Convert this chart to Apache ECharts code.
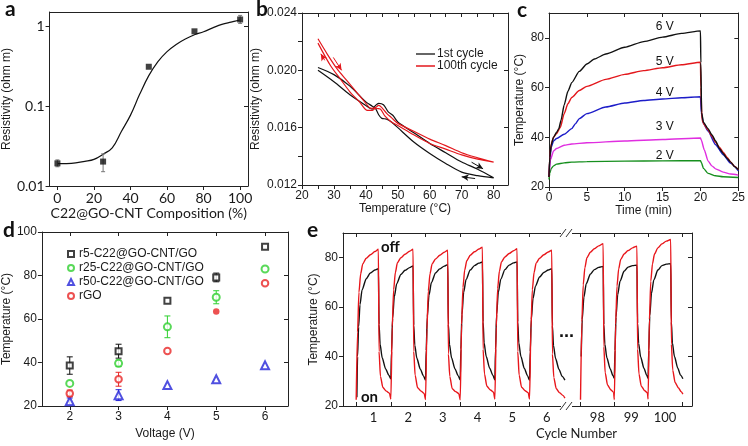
<!DOCTYPE html>
<html><head><meta charset="utf-8">
<script src="https://cdn.jsdelivr.net/npm/echarts@6/dist/echarts.min.js"></script>
<style>html,body{margin:0;padding:0;background:#fff}#c{width:748px;height:446px}</style>
</head><body><div id="c"></div>
<script>
// ================= DATA =================
// panel a
const aX = [0, 25, 50, 75, 100];
const aY = [0.0192, 0.0202, 0.31, 0.86, 1.21];
const aErrLo = [0.0174, 0.0151, null, null, 1.08];
const aErrHi = [0.0212, 0.0252, null, null, 1.36];
const aFitX = [0,5,10,15,20,25,30,35,40,45,50,55,60,65,70,75,80,85,90,95,100];
const aFitY = [0.0190,0.0191,0.0195,0.0203,0.0215,0.025,0.030,0.048,0.077,0.14,0.24,0.36,0.48,0.59,0.69,0.78,0.85,0.95,1.05,1.12,1.19];
// panel b
const b1T = [25,30,35,40,42,43,44,45.5,47,48.5,50,55,60,65,70,75,80,75,70,65,60,55,50,48,46.5,45,44,43,42,40,35,30,25];
const b1R = [.0200,.0192,.0183,.01755,.0173,.01755,.0177,.0176,.0171,.01685,.0164,.01565,.0149,.01425,.0136,.0131,.0125,.01265,.0129,.0135,.0142,.0150,.0160,.0164,.0166,.01665,.0169,.01735,.0175,.0178,.0189,.0197,.0202];
const b100T = [25,28,31,34,37,40,41.5,43,44,45,46.5,48,50,55,60,65,70,75,80,75,70,65,60,55,50,48,46,44.5,43,42,40.5,38,35,32,29,25];
const b100R = [.0222,.0211,.0201,.0193,.0185,.0177,.01735,.0174,.01755,.0174,.0170,.0167,.0163,.01575,.0152,.01475,.01425,.0139,.0136,.0138,.0141,.0145,.0149,.0155,.01615,.0164,.0168,.0173,.01735,.0172,.0172,.0178,.0185,.0194,.0203,.0219];
// panel c (time min, temperature C)
const c6V = [[0,24],[0.1,32],[0.3,37],[0.6,40],[1,42],[1.3,43.5],[1.6,47],[2,53],[2.5,58.5],[3,62],[4,66.5],[5,69.5],[6,71.5],[7.5,73.5],[10,76.2],[12.5,78.5],[15,80.3],[17.5,81.8],[20,82.8],[20.05,70],[20.15,50],[20.4,46],[21,43.5],[21.5,41],[22,38.5],[22.5,35.5],[23,33.5],[23.5,31.5],[24,30],[24.5,28.2],[25,27]];
const c5V = [[0,24],[0.1,32],[0.3,37.5],[0.6,40],[1,41.5],[1.5,44],[2,49.5],[2.5,53.5],[3,56],[4,58.8],[5,60.5],[7.5,63.3],[10,65.3],[12.5,66.8],[15,68],[17.5,69.2],[20,70.2],[20.05,60],[20.2,47],[20.5,45],[21,43],[21.5,40.5],[22,38],[22.5,36],[23,34],[23.5,32],[24,30],[24.5,28.3],[25,27]];
const c4V = [[0,24],[0.1,31],[0.3,36],[0.6,38.5],[1,39.5],[2,41.2],[3,43.5],[3.5,45.5],[4,47.5],[5,49.5],[7.5,52.2],[10,53.8],[12.5,54.8],[15,55.4],[17.5,55.9],[20,56.3],[20.1,50],[20.4,45.5],[21,42.5],[22,37],[23,33],[24,29.5],[25,26.5]];
const c3V = [[0,24],[0.2,31],[0.6,34.5],[1,35.5],[2,36.8],[3,37.3],[5,37.8],[10,38.5],[15,39.1],[20,39.7],[20.1,39],[20.5,35],[21,30.5],[21.5,28.5],[22,27.3],[23,26],[24,25.2],[25,24.8]];
const c2V = [[0,23],[0.1,25.5],[0.3,27.5],[0.6,28.5],[1,29.2],[2,29.7],[3,30],[5,30.2],[10,30.4],[15,30.5],[20,30.6],[20.1,30],[20.4,27.5],[21,25.5],[22,24.5],[23,24.1],[25,23.8]];
const cLabels = ['6 V','5 V','4 V','3 V','2 V'];
// panel d
const dV = [2, 3, 4, 5, 6];
const dR5 = [38.6, 45.2, 68.4, 79.1, 93.2];   const dR5Err = [4, 3.2, 0, 2, 0];
const dR25 = [30.4, 39.6, 56.4, 70, 83];      const dR25Err = [0, 1.5, 5, 3, 0];
const dR50 = [22.2, 25, 29.6, 32.3, 38.7];    const dR50Err = [1.5, 2.5, 0, 0, 0];
const dRGO = [25.8, 32.3, 45.3, 63.4, 76.4];  const dRGOErr = [1.5, 3.2, 0, 0, 0];
const dNames = ['r5-C22@GO-CNT/GO','r25-C22@GO-CNT/GO','r50-C22@GO-CNT/GO','rGO'];
// panel e (cycle position, temperature C)
const eRedL = [
[0.5,22.5],[0.54,50],[0.58,66],[0.63,73.5],[0.69,77.5],[0.79,79.8],[0.91,81.2],[1.04,82.5],[1.14,83.4],[1.16,42],[1.2,32],[1.27,27.5],[1.37,26],[1.46,25.2],[1.5,22.8],
[1.54,52],[1.58,67],[1.63,74],[1.69,78],[1.79,80],[1.91,81.4],[2.04,82.6],[2.14,83.4],[2.16,42],[2.2,32.5],[2.27,27.4],[2.37,26],[2.46,25.1],[2.5,22.6],
[2.54,51],[2.58,66.5],[2.63,73.5],[2.69,77.5],[2.79,79.5],[2.91,81],[3.04,82.2],[3.14,83],[3.16,41],[3.2,32],[3.27,27],[3.37,25.8],[3.46,25],[3.5,22.5],
[3.54,53],[3.58,68],[3.63,75],[3.69,78.8],[3.79,81],[3.91,82.4],[4.04,83.5],[4.14,84.3],[4.16,43],[4.2,33],[4.27,28],[4.37,26.5],[4.46,25.6],[4.5,22.8],
[4.54,52],[4.58,67.5],[4.63,74.5],[4.69,78.3],[4.79,80.3],[4.91,81.7],[5.04,82.8],[5.14,83.6],[5.16,42],[5.2,32.5],[5.27,27.6],[5.37,26.2],[5.46,25.4],[5.5,22.8],
[5.54,51.5],[5.58,67],[5.63,74],[5.69,77.8],[5.79,79.8],[5.91,81.2],[6.04,82.3],[6.14,83],[6.16,41],[6.2,31.5],[6.27,27],[6.37,25.3],[6.46,24.3],[6.52,23.2]];
const eBlkL = [
[0.52,23.5],[0.54,40],[0.57,52],[0.61,61],[0.67,67],[0.79,71.5],[0.91,73.8],[1.04,75],[1.14,75.6],[1.16,53],[1.19,45],[1.25,39.5],[1.35,35],[1.44,32.5],[1.5,31],
[1.52,42],[1.55,55.4],[1.6,64.2],[1.67,69.5],[1.79,73.2],[1.91,74.9],[2.04,76],[2.14,76.7],[2.16,52.7],[2.19,44.6],[2.25,39.3],[2.35,34.9],[2.44,32.2],[2.5,30.5],
[2.52,42.5],[2.55,56],[2.6,64.8],[2.67,70],[2.79,73.8],[2.91,75.5],[3.04,76.6],[3.14,77.2],[3.16,53],[3.19,45],[3.25,39.5],[3.35,35],[3.44,32.3],[3.5,30.6],
[3.52,43],[3.55,57],[3.6,66],[3.67,71.2],[3.79,75],[3.91,76.8],[4.04,77.8],[4.14,78.3],[4.16,54],[4.19,45.5],[4.25,40],[4.35,35.3],[4.44,32.5],[4.5,30.6],
[4.52,43],[4.55,57],[4.6,66],[4.67,71.3],[4.79,75.2],[4.91,77],[5.04,77.9],[5.14,78.3],[5.16,54],[5.19,45.5],[5.25,40],[5.35,35.2],[5.44,32.3],[5.5,30.4],
[5.52,42],[5.55,55],[5.6,63.5],[5.67,68.5],[5.79,72.2],[5.91,74],[6.04,75],[6.14,75.6],[6.16,52.5],[6.19,44.5],[6.25,39.2],[6.35,34.8],[6.44,32],[6.52,30.5]];
const eRedR = [
[97.5,22.5],[97.54,54],[97.58,69],[97.63,76],[97.69,80],[97.79,82.2],[97.91,83.6],[98.04,84.8],[98.17,85.7],[98.19,44],[98.23,33.5],[98.3,28.5],[98.4,26.5],[98.48,25.5],[98.5,22.6],
[98.54,53],[98.58,68.5],[98.63,75.5],[98.69,79.3],[98.79,81.5],[98.91,82.9],[99.04,84],[99.17,84.7],[99.19,43],[99.23,33],[99.3,28],[99.4,26.2],[99.48,25.3],[99.5,22.8],
[99.54,55],[99.58,70.5],[99.63,77.5],[99.69,81.5],[99.79,84],[99.91,85.6],[100.04,86.7],[100.17,87.4],[100.19,45],[100.23,34.5],[100.3,29.5],[100.4,27.3],[100.48,25.8],[100.53,24.8]];
const eBlkR = [
[97.52,40],[97.55,55],[97.6,64],[97.67,69.5],[97.79,73.3],[97.91,75.2],[98.04,76.1],[98.17,76.5],[98.19,53],[98.22,45],[98.28,39.5],[98.38,35],[98.46,32.3],[98.5,31.2],
[98.52,42.5],[98.55,56],[98.6,65],[98.67,70.5],[98.79,74.5],[98.91,76.2],[99.04,76.8],[99.17,77],[99.19,53.5],[99.22,45.3],[99.28,39.8],[99.38,35.2],[99.46,32.4],[99.5,31.2],
[99.52,42.5],[99.55,56.5],[99.6,65.5],[99.67,71],[99.79,75],[99.91,76.8],[100.04,77.4],[100.17,77.6],[100.19,54],[100.22,45.5],[100.28,40],[100.38,35.3],[100.46,32.5],[100.53,31]];
const eTicksL = [1,2,3,4,5,6];
const eTicksR = [98,99,100];

// ================= BUILD =================
const FA = 'Lato, "Liberation Sans", sans-serif';
const FB = '"Liberation Sans", Arial, sans-serif';
const AX = '#222';
function mg(a, b) {
  const o = Object.assign({}, a);
  for (const k in b) {
    const v = b[k];
    if (v && typeof v === 'object' && !Array.isArray(v) && o[k] && typeof o[k] === 'object' && !Array.isArray(o[k])) o[k] = mg(o[k], v);
    else o[k] = v;
  }
  return o;
}
const grids = [], xAxes = [], yAxes = [], series = [];
function panel(grid, x, y, f) {
  f = f || {};
  const gi = grids.length; grids.push(grid);
  const xi = xAxes.length, yi = yAxes.length;
  const base = {gridIndex: gi, type: 'value', splitLine: {show: false},
    axisLine: {show: true, onZero: false, lineStyle: {color: AX, width: 1}},
    axisTick: {show: true, inside: false, length: 4, lineStyle: {color: AX, width: 1}},
    axisLabel: {margin: 5, color: '#1a1a1a', fontSize: 12, fontFamily: FB},
    nameLocation: 'middle', nameTextStyle: {color: '#1a1a1a', fontSize: 12, fontFamily: FB}};
  const xb = mg(mg(base, {position: 'bottom'}), x);
  const xt = mg(xb, {position: 'top', name: '', axisLabel: {show: false}, axisTick: {inside: true}});
  if (f.topTicks) xt.axisTick = mg(xt.axisTick, {customValues: f.topTicks});
  const yl = mg(mg(base, {position: 'left', nameRotate: 90}), y);
  const yr = mg(yl, {position: 'right', name: '', axisLabel: {show: false}, axisTick: {inside: true}});
  if (f.rightTicks) yr.axisTick = mg(yr.axisTick, {customValues: f.rightTicks});
  if (f.hideLeft) yl.show = false;
  if (f.hideRight) yr.show = false;
  xAxes.push(xb, xt); yAxes.push(yl, yr);
  return {xi, yi};
}
const pair = (xs, ys) => xs.map((v, i) => [v, ys[i]]);
function errSeries(ax, color, data, cap) {
  return {type: 'custom', xAxisIndex: ax.xi, yAxisIndex: ax.yi, silent: true, z: 3,
    data: data,
    renderItem: function (p, api) {
      const x = api.value(0), lo = api.value(1), hi = api.value(2);
      const a = api.coord([x, hi]), b = api.coord([x, lo]);
      const st = {stroke: color, lineWidth: 1};
      return {type: 'group', children: [
        {type: 'line', shape: {x1: a[0], y1: a[1], x2: b[0], y2: b[1]}, style: st},
        {type: 'line', shape: {x1: a[0] - cap, y1: a[1], x2: a[0] + cap, y2: a[1]}, style: st},
        {type: 'line', shape: {x1: b[0] - cap, y1: b[1], x2: b[0] + cap, y2: b[1]}, style: st}]};
    }};
}

// ---- panel a ----
const pa = panel({left: 45, top: 12, width: 203, height: 174},
  {min: -4.3, max: 104.3, axisLabel: {customValues: [0,20,40,60,80,100], fontFamily: FA, fontSize: 14},
   axisTick: {customValues: [0,20,40,60,80,100]}, name: 'C22@GO-CNT Composition (%)', nameGap: 20,
   nameTextStyle: {fontFamily: FA, fontSize: 14}},
  {type: 'log', min: 0.01, max: 1.5, axisLabel: {customValues: [0.01,0.1,1], fontFamily: FA, fontSize: 14},
   axisTick: {customValues: [0.01,0.1,1]}, name: 'Resistivity (ohm m)', nameGap: 31,
   nameTextStyle: {fontFamily: FB, fontSize: 12}},
  {rightTicks: [0.1, 1], topTicks: []});
series.push({type: 'line', name: 'aFit', xAxisIndex: pa.xi, yAxisIndex: pa.yi, data: pair(aFitX, aFitY),
  smooth: 0.4, symbol: 'none', lineStyle: {color: '#111', width: 1.2}, z: 2});
series.push({type: 'scatter', name: 'aPts', xAxisIndex: pa.xi, yAxisIndex: pa.yi, data: pair(aX, aY),
  symbol: 'rect', symbolSize: 6, itemStyle: {color: '#111'}, z: 4});
series.push(errSeries(pa, '#777', aX.map((x, i) => [x, aErrLo[i], aErrHi[i]]).filter(d => d[1] != null), 2));

// ---- panel b ----
const pb = panel({left: 302, top: 13, width: 206, height: 172},
  {min: 20, max: 84.5, axisLabel: {customValues: [20,30,40,50,60,70,80]},
   axisTick: {customValues: [20,25,30,35,40,45,50,55,60,65,70,75,80]}, name: 'Temperature (°C)', nameGap: 18},
  {min: 0.012, max: 0.024, axisLabel: {customValues: [0.012,0.016,0.020,0.024], formatter: v => v.toFixed(3)},
   axisTick: {customValues: [0.012,0.014,0.016,0.018,0.020,0.022,0.024]}, name: 'Resistivity (ohm m)', nameGap: 40},
  {rightTicks: [0.016, 0.020], topTicks: [20,25,30,35,40,45,50,55,60,65,70,75,80]});
const arrowML = (color, segs) => ({silent: true, symbol: ['none', 'arrow'], symbolSize: [5, 7], label: {show: false},
  lineStyle: {color: color, width: 1, type: 'solid'}, emphasis: {disabled: true},
  data: segs.map(s => [{coord: s[0]}, {coord: s[1]}])});
series.push({type: 'line', name: '1st cycle', xAxisIndex: pb.xi, yAxisIndex: pb.yi, data: pair(b1T, b1R),
  smooth: 0.3, symbol: 'none', lineStyle: {color: '#111', width: 1.2}, itemStyle: {color: '#333'},
  markLine: arrowML('#111', [[[73.1, 0.01359], [76.7, 0.01313]], [[74.2, 0.01245], [70, 0.01257]]])});
series.push({type: 'line', name: '100th cycle', xAxisIndex: pb.xi, yAxisIndex: pb.yi, data: pair(b100T, b100R),
  smooth: 0.3, symbol: 'none', lineStyle: {color: '#e3171c', width: 1.2}, itemStyle: {color: '#e3171c'},
  markLine: arrowML('#e3171c', [[[27.1, 0.0207], [25.9, 0.02115]], [[29.8, 0.0209], [32.4, 0.0200]]])});

// ---- panel c ----
const pc = panel({left: 549, top: 13, width: 196, height: 174},
  {min: 0, max: 25, axisLabel: {customValues: [0,5,10,15,20,25]}, axisTick: {customValues: [0,5,10,15,20,25]},
   name: 'Time (min)', nameGap: 18},
  {min: 20, max: 90, axisLabel: {customValues: [20,40,60,80]}, axisTick: {customValues: [20,40,60,80]},
   name: 'Temperature (°C)', nameGap: 23},
  {rightTicks: [40,60,80], topTicks: [5,10,15,20]});
const cSeries = [[c6V, '#111'], [c5V, '#e3171c'], [c4V, '#1c1cc8'], [c3V, '#e02ee0'], [c2V, '#168f1e']];
cSeries.forEach((s, i) => {
  const ser = {type: 'line', name: 'c' + cLabels[i], xAxisIndex: pc.xi, yAxisIndex: pc.yi, data: s[0],
    smooth: 0.2, smoothMonotone: 'x', symbol: 'none', lineStyle: {color: s[1], width: 1.4}, z: 5 - i};
  if (i === 0) ser.markPoint = {silent: true, symbol: 'circle', symbolSize: 1, itemStyle: {color: 'rgba(0,0,0,0)'},
    label: {show: true, position: 'inside', formatter: '{b}', color: '#111', fontSize: 12, fontFamily: FB},
    data: [{name: cLabels[0], coord: [15.3, 84.6]}, {name: cLabels[1], coord: [15.3, 70.6]},
           {name: cLabels[2], coord: [15.3, 57.8]}, {name: cLabels[3], coord: [15.3, 44.2]},
           {name: cLabels[4], coord: [15.3, 32.6]}]};
  series.push(ser);
});

// ---- panel d ----
const pd = panel({left: 40, top: 232, width: 248, height: 174},
  {min: 1.43, max: 6.47, axisLabel: {customValues: dV}, axisTick: {customValues: dV}, name: 'Voltage (V)', nameGap: 22},
  {min: 20, max: 100, axisLabel: {customValues: [20,40,60,80,100]}, axisTick: {customValues: [20,40,60,80,100]},
   name: 'Temperature (°C)', nameGap: 27},
  {rightTicks: [40,60,80], topTicks: dV});
const dSets = [[dR5, dR5Err, 'emptyRect', '#111', 6], [dR25, dR25Err, 'emptyCircle', '#2fd02f', 7],
               [dR50, dR50Err, 'emptyTriangle', '#2424d8', 8], [dRGO, dRGOErr, 'emptyCircle', '#e82525', 6.5]];
dSets.forEach((s, k) => {
  const data = dV.map((v, i) => [v, s[0][i]]);
  if (k === 3) data[3] = {value: data[3], symbol: 'circle', itemStyle: {color: s[3]}};
  series.push({type: 'scatter', name: dNames[k], xAxisIndex: pd.xi, yAxisIndex: pd.yi, data: data,
    symbol: s[2], symbolSize: s[4], itemStyle: {color: s[3], borderWidth: 1.3}, z: 5});
  series.push(errSeries(pd, s[3], dV.map((v, i) => [v, s[0][i] - s[1][i], s[0][i] + s[1][i]]).filter((d, i) => s[1][i] > 0), 3));
});

// ---- panel e ----
const RED = '#e8161b';
const pel = panel({left: 343, top: 233, width: 224, height: 173},
  {min: 0.12, max: 6.58, axisLabel: {customValues: eTicksL, fontFamily: FA, fontSize: 13},
   axisTick: {customValues: [0.5,1.5,2.5,3.5,4.5,5.5], inside: true}},
  {min: 20, max: 90, axisLabel: {customValues: [20,40,60,80]}, axisTick: {customValues: [20,40,60,80]},
   name: 'Temperature (°C)', nameGap: 23},
  {hideRight: true, topTicks: [0.5,1.5,2.5,3.5,4.5,5.5]});
const per = panel({left: 567, top: 233, width: 125, height: 173},
  {min: 97.1, max: 100.8, axisLabel: {customValues: eTicksR, fontFamily: FA, fontSize: 13},
   axisTick: {customValues: [97.5,98.5,99.5,100.5], inside: true}},
  {min: 20, max: 90},
  {hideLeft: true, rightTicks: [40,60,80], topTicks: [97.5,98.5,99.5,100.5]});
[[pel, eBlkL, eRedL], [per, eBlkR, eRedR]].forEach(g => {
  series.push({type: 'line', name: 'eBlk' + g[0].xi, xAxisIndex: g[0].xi, yAxisIndex: g[0].yi, data: g[1],
    smooth: 0.25, smoothMonotone: 'x', symbol: 'none', lineStyle: {color: '#111', width: 1.4}, z: 2});
  series.push({type: 'line', name: 'eRed' + g[0].xi, xAxisIndex: g[0].xi, yAxisIndex: g[0].yi, data: g[2],
    smooth: 0.25, smoothMonotone: 'x', symbol: 'none', lineStyle: {color: RED, width: 1.4}, z: 3});
});

const letter = (t, x, y) => ({type: 'text', left: x, top: y, style: {text: t, font: 'bold 21px Lato, sans-serif', fill: '#111'}});
const brk = (y) => [
  {type: 'rect', shape: {x: 561, y: y - 4, width: 11, height: 8}, style: {fill: '#fff'}, z: 10},
  {type: 'line', shape: {x1: 560, y1: y + 4, x2: 566, y2: y - 4}, style: {stroke: '#333', lineWidth: 1}, z: 11},
  {type: 'line', shape: {x1: 566, y1: y + 4, x2: 572, y2: y - 4}, style: {stroke: '#333', lineWidth: 1}, z: 11}];

const option = {
  animation: false,
  backgroundColor: '#fff',
  grid: grids, xAxis: xAxes, yAxis: yAxes, series: series,
  legend: [
    {left: 411, top: 43, orient: 'vertical', itemGap: 0, itemWidth: 19, itemHeight: 1.5, icon: 'rect', selectedMode: false,
     data: ['1st cycle', '100th cycle'], textStyle: {fontFamily: FB, fontSize: 12, lineHeight: 12, color: '#1a1a1a', padding: [0,0,0,-3]}},
    {left: 62, top: 242, orient: 'vertical', itemGap: 0, itemWidth: 6, itemHeight: 6, selectedMode: false,
     data: dNames, textStyle: {fontFamily: FB, fontSize: 12, lineHeight: 14, color: '#1a1a1a'}}
  ],
  graphic: [
    letter('a', 5, -1), letter('b', 256, -1), letter('c', 517, 0), letter('d', 3, 220), letter('e', 307, 220),
    {type: 'text', left: 381, top: 240, style: {text: 'off', font: 'bold 15px Lato, sans-serif', fill: '#111'}, z: 20},
    {type: 'text', left: 361, top: 390, style: {text: 'on', font: 'bold 15px Lato, sans-serif', fill: '#111'}, z: 20},
    {type: 'text', left: 559, top: 323, style: {text: '...', font: 'bold 18px "Liberation Sans", sans-serif', fill: '#111'}, z: 20},
    {type: 'text', left: 536, top: 427, style: {text: 'Cycle Number', font: '13px Lato, sans-serif', fill: '#1a1a1a', textAlign: 'center'}},
    ...brk(233), ...brk(406)
  ]
};
const chart = echarts.init(document.getElementById('c'), null, {renderer: 'canvas', width: 748, height: 446});
chart.setOption(option);
</script>
</body></html>
